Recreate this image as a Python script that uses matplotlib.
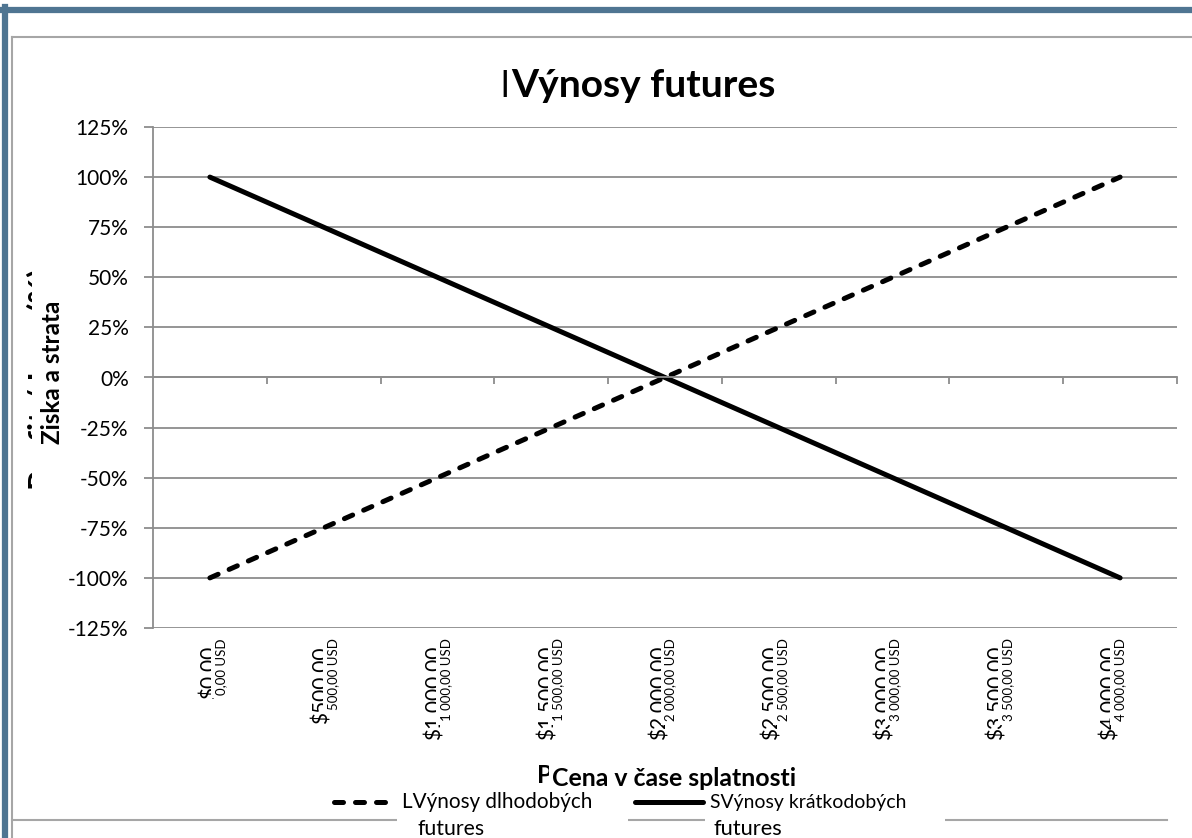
import numpy as np
import matplotlib
matplotlib.use("Agg")
import matplotlib.pyplot as plt
from matplotlib.lines import Line2D
from matplotlib.patches import Rectangle

plt.rcParams['font.family'] = ['Lato', 'DejaVu Sans']

# data
prices = [0, 500, 1000, 1500, 2000, 2500, 3000, 3500, 4000]
long_payoff = [-1.00, -0.75, -0.50, -0.25, 0.00, 0.25, 0.50, 0.75, 1.00]
short_payoff = [1.00, 0.75, 0.50, 0.25, 0.00, -0.25, -0.50, -0.75, -1.00]
usd_labels = ["$0.00", "$500.00", "$1,000.00", "$1,500.00", "$2,000.00",
              "$2,500.00", "$3,000.00", "$3,500.00", "$4,000.00"]
czk_labels = ["0,00 USD", "500,00 USD", "1 000,00 USD", "1 500,00 USD", "2 000,00 USD",
              "2 500,00 USD", "3 000,00 USD", "3 500,00 USD", "4 000,00 USD"]
y_ticks = [-1.25, -1.0, -0.75, -0.5, -0.25, 0.0, 0.25, 0.5, 0.75, 1.0, 1.25]
legend_labels = ["LVýnosy dlhodobých", "SVýnosy krátkodobých"]

W, H = 1192, 838
fig = plt.figure(figsize=(W / 100, H / 100), dpi=100)


def fx(x):
    return x / W


def fy(y):
    # y measured from the top of the picture
    return 1 - y / H


def fit(t, size, vertical=False):
    # scale a text so that its length is `size` pixels
    r = fig.canvas.get_renderer()
    bb = t.get_window_extent(r)
    cur = bb.height if vertical else bb.width
    t.set_fontsize(t.get_fontsize() * size / cur)
    return t.get_fontsize()


def white_box(x0, y0, x1, y1, z=2):
    fig.add_artist(Rectangle((fx(x0), fy(y1)), fx(x1 - x0), (y1 - y0) / H,
                             transform=fig.transFigure, fc='white', ec='none', zorder=z))


GRID = '#8c8c8c'
FRAME = '#4f7592'
BORDER = '#a6a6a6'

# outer blue frame and inner grey border
fig.add_artist(Line2D([fx(5), fx(5)], [0, fy(7)], color=FRAME, lw=4.5))
fig.add_artist(Line2D([fx(2), 1], [fy(10), fy(10)], color=FRAME, lw=4.5))
fig.add_artist(Line2D([fx(12), fx(12)], [0, fy(37)], color=BORDER, lw=1.5))
fig.add_artist(Line2D([fx(12), 1], [fy(37), fy(37)], color=BORDER, lw=1.5))
fig.add_artist(Line2D([fx(12), fx(1167)], [fy(820), fy(820)], color=BORDER, lw=1.5, zorder=1))

ax = fig.add_axes([fx(153), fy(628), fx(1177 - 153), (628 - 127) / H])
x = np.arange(len(prices))

ax.plot(x, long_payoff, color='black', lw=3.6, linestyle=(0, (1.8, 2.4)),
        dash_capstyle='round', solid_capstyle='round')
ax.plot(x, short_payoff, color='black', lw=3.6, solid_capstyle='round')

ax.set_xlim(-0.5, len(prices) - 0.5)
ax.set_ylim(-1.25, 1.25)
ax.set_yticks(y_ticks)
ax.set_yticklabels([f"{v * 100:.0f}%" for v in y_ticks], fontsize=15)
ax.yaxis.grid(True, color=GRID, lw=1.3)
ax.set_axisbelow(True)
ax.tick_params(axis='y', length=6.5, width=1.3, color=GRID, pad=11)

for s in ['top', 'right']:
    ax.spines[s].set_visible(False)
ax.spines['left'].set_color(GRID)
ax.spines['left'].set_linewidth(1.3)
ax.spines['bottom'].set_position(('data', 0))
ax.spines['bottom'].set_color(GRID)
ax.spines['bottom'].set_linewidth(1.3)
ax.set_xticks(x + 0.5)
ax.set_xticklabels([])
ax.tick_params(axis='x', length=5, width=1.3, color=GRID, direction='out')

# category labels: big ones half hidden by the small ones
fig.canvas.draw()
n = len(prices)
for i in range(n):
    cx = ax.transData.transform((x[i], 0))[0]
    sc = cx + 11 - 11 * i / (n - 1)
    fig.text(fx(sc - 11.5), fy(646), usd_labels[i], rotation=90, fontsize=15,
             ha='center', va='top', zorder=1)
    fig.text(fx(sc), fy(638), czk_labels[i], rotation=90, fontsize=9.5,
             ha='center', va='top', zorder=3,
             bbox=dict(boxstyle='square,pad=0.3', fc='white', ec='none'))

# y axis title with hidden original under it
hid = fig.text(fx(26), fy(379), "Profit / Loss (%)", rotation=90, fontsize=18,
               fontweight='bold', ha='left', va='center', zorder=1)
fit(hid, 222, vertical=True)
white_box(32, 240, 80, 520)
ylab = fig.text(fx(52), fy(372), "Ziska a strata", rotation=90, fontsize=15,
                fontweight='bold', ha='center', va='center', zorder=3)
fit(ylab, 143, vertical=True)

# title
title = fig.text(fx(511), fy(97), "Výnosy futures", fontsize=27, fontweight='bold',
                 ha='left', va='baseline')
fit(title, 264)
fig.text(fx(509), fy(97), "l", fontsize=26, ha='right', va='baseline')

# x axis title
xlab = fig.text(fx(552), fy(778), "Cena v čase splatnosti", fontsize=15, fontweight='bold',
                ha='left', va='center', zorder=3,
                bbox=dict(boxstyle='square,pad=0.12', fc='white', ec='none'))
xsize = fit(xlab, 245)
fig.text(fx(552), fy(775), "P", fontsize=xsize, fontweight='bold', ha='right', va='center',
         zorder=1)

# legend
white_box(397, 790, 628, 838)
white_box(705, 790, 945, 838)
fig.add_artist(Line2D([fx(334), fx(388)], [fy(802), fy(802)], color='black', lw=3.6,
                      linestyle=(0, (1.8, 2.4)), dash_capstyle='round'))
fig.add_artist(Line2D([fx(635), fx(703)], [fy(802), fy(802)], color='black', lw=3.6,
                      solid_capstyle='round'))
l1 = fig.text(fx(402), fy(802), legend_labels[0], fontsize=12, ha='left', va='center', zorder=3)
fit(l1, 190)
l2 = fig.text(fx(710), fy(802), legend_labels[1], fontsize=12, ha='left', va='center', zorder=3)
fit(l2, 195)
f1 = fig.text(fx(418), fy(829), "futures", fontsize=12, ha='left', va='center', zorder=3)
fit(f1, 67)
f2 = fig.text(fx(713), fy(829), "futures", fontsize=12, ha='left', va='center', zorder=3)
fit(f2, 69)

fig.savefig("out.png", dpi=100)
